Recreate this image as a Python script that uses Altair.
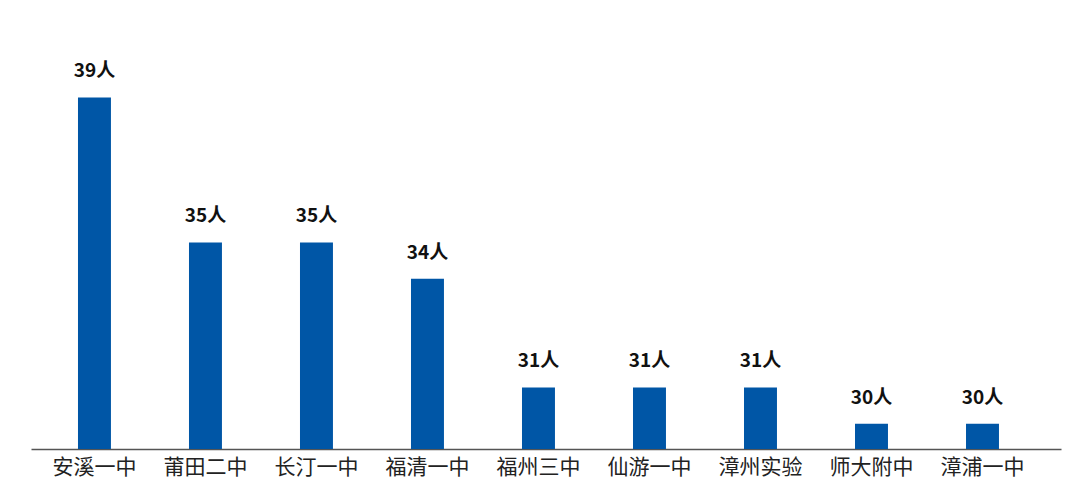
import altair as alt
import pandas as pd

schools = ["安溪一中", "莆田二中", "长汀一中", "福清一中", "福州三中", "仙游一中", "漳州实验", "师大附中", "漳浦一中"]
counts = [39, 35, 35, 34, 31, 31, 31, 30, 30]
labels = [f"{c}人" for c in counts]

df = pd.DataFrame({"school": schools, "count": counts, "label": labels})

ymin = 29.3
ymax = 29.3 + 441 / 36.25

x = alt.X("school:N", sort=schools, title=None,
          scale=alt.Scale(paddingInner=0.703, paddingOuter=0.491, align=0.431),
          axis=alt.Axis(labelAngle=0, ticks=False, domainColor="#555555", domainWidth=1.5,
                        labelFontSize=21, labelColor="#222222", labelPadding=7,
                        labelFont="Noto Sans CJK SC"))
y = alt.Y("count:Q", scale=alt.Scale(domain=[ymin, ymax], zero=False, nice=False), axis=None)

bars = alt.Chart(df).mark_bar(color="#0056A6").encode(x=x, y=y, y2=alt.datum(ymin))
text = alt.Chart(df).mark_text(baseline="bottom", dy=-16, fontSize=19, fontWeight="bold",
                               font="Noto Sans CJK SC", color="#111111").encode(
    x=alt.X("school:N", sort=schools), y="count:Q", text="label:N")

chart = (bars + text).properties(
    width=1030, height=441,
    padding={"left": 23, "top": 0, "right": 5, "bottom": 5}
).configure_view(strokeWidth=0)

chart.save("out.html", embed_options={"renderer": "svg", "actions": False})
